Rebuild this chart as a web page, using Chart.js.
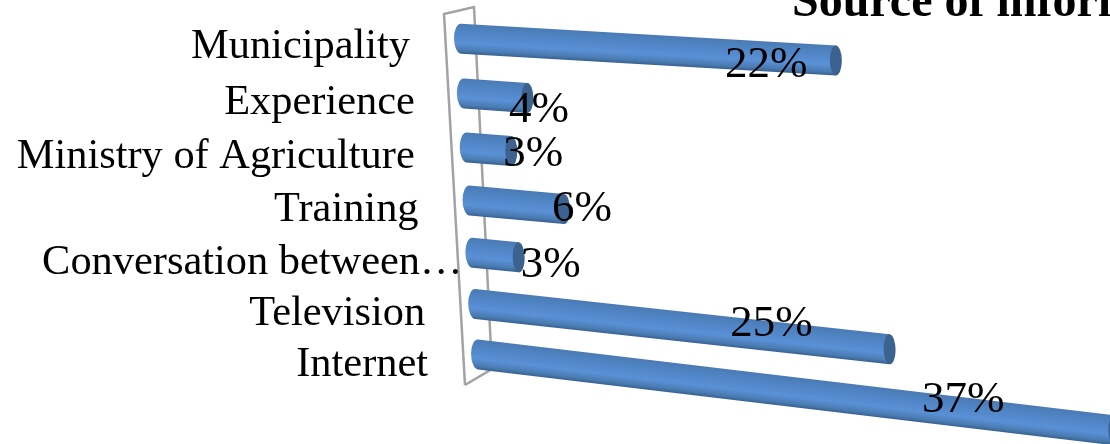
<!DOCTYPE html>
<html>
<head>
<meta charset="utf-8">
<title>Source of information</title>
<script src="https://cdn.jsdelivr.net/npm/chart.js@4"></script>
<style>
  html,body{margin:0;padding:0;background:#fff;overflow:hidden;}
  #wrap{width:1110px;height:444px;}
</style>
</head>
<body>
<div id="wrap"><canvas id="chart" width="1110" height="444"></canvas></div>
<script>
// ---------------------
// data
// ---------------------
const categories = ["Municipality","Experience","Ministry of Agriculture","Training","Conversation between…","Television","Internet"];
const values = [22.2,4.1,3,5.9,3.1,24.5,37.4];
const valueLabels = ["22%","4%","3%","6%","3%","25%","37%"];
const chartTitle = "Source of information";

// ---------------------
// fake 3d look
// ---------------------
const serif = '"Liberation Serif","Times New Roman",serif';
const labelGap = [44,42,45,44,3,43,43]; // tick label distance left of the bar
const labelNudge = [[-69.5,5],[11.5,12],[22,3.5],[18,0],[32,7.5],[-118,-25],[-151,-30]]; // value label from bar end

function barShape(y){
  const top = 38, bottom = 353;
  return {
    shift:(y-top)*0.054,
    slope:0.058+(y-top)*0.000194,
    lift:(y-top)*(bottom-y)*0.00016
  };
}

function barGradient(ctx,y,h){
  const g = ctx.createLinearGradient(0,y-h/2,0,y+h/2);
  g.addColorStop(0,"#4a7ab4");
  g.addColorStop(0.3,"#5086c6");
  g.addColorStop(0.65,"#5a90d6");
  g.addColorStop(0.88,"#4a7cb2");
  g.addColorStop(1,"#38608f");
  return g;
}

const cylinderPlugin = {
  id:"cylinder",
  beforeDatasetsDraw(chart){
    const {ctx,chartArea:a} = chart;
    ctx.save();
    ctx.strokeStyle = "#a3a3a3";
    ctx.lineWidth = 2.5;
    ctx.beginPath();
    ctx.moveTo(a.left+11,a.bottom+5);
    ctx.lineTo(a.left-10,a.top+2);
    ctx.lineTo(a.left+20,a.top-5);
    ctx.lineTo(a.left+38,a.bottom-11);
    ctx.lineTo(a.left+11,a.bottom+5);
    ctx.stroke();
    ctx.restore();
  },
  beforeDatasetDraw(chart){
    const ctx = chart.ctx;
    chart.getDatasetMeta(0).data.forEach(bar=>{
      const h = bar.height, r = h/2;
      const {shift,slope,lift} = barShape(bar.y);
      ctx.save();
      ctx.transform(1,slope,0,1,shift,lift-slope*bar.base);
      ctx.fillStyle = barGradient(ctx,bar.y,h);
      ctx.beginPath();
      ctx.ellipse(bar.base+7,bar.y,7,r,0,Math.PI/2,Math.PI*1.5);
      ctx.lineTo(bar.x,bar.y-r);
      ctx.lineTo(bar.x,bar.y+r);
      ctx.closePath();
      ctx.fill();
      ctx.fillStyle = "#3c628f";
      ctx.beginPath();
      ctx.ellipse(bar.x,bar.y,6,r,0,0,Math.PI*2);
      ctx.fill();
      ctx.restore();
    });
    return false;
  },
  afterDatasetsDraw(chart){
    const ctx = chart.ctx;
    const bars = chart.getDatasetMeta(0).data;
    ctx.save();
    ctx.fillStyle = "#000";
    ctx.textBaseline = "middle";

    // category labels
    ctx.font = "42.4px "+serif;
    ctx.textAlign = "right";
    bars.forEach((bar,i)=>{
      const {shift,lift} = barShape(bar.y);
      ctx.fillText(categories[i],bar.base+shift-labelGap[i],bar.y+lift+9+(bar.y-38)*0.007);
    });

    // value labels
    ctx.font = "45px "+serif;
    ctx.textAlign = "center";
    bars.forEach((bar,i)=>{
      const {shift,slope,lift} = barShape(bar.y);
      const endX = bar.x+shift, endY = bar.y+lift+slope*(bar.x-bar.base);
      ctx.fillText(valueLabels[i],endX+labelNudge[i][0],endY+labelNudge[i][1]);
    });

    // title runs off the picture like the original
    ctx.font = "bold 48px "+serif;
    ctx.textAlign = "left";
    ctx.textBaseline = "alphabetic";
    ctx.fillText(chartTitle,792,16);
    ctx.restore();
  }
};

new Chart(document.getElementById("chart"),{
  type:"bar",
  data:{
    labels:categories,
    datasets:[{data:values,backgroundColor:"#4f81bd",barThickness:30}]
  },
  options:{
    indexAxis:"y",
    responsive:false,
    animation:false,
    layout:{padding:{left:454,top:12,bottom:64,right:11}},
    plugins:{legend:{display:false},tooltip:{enabled:false},title:{display:false}},
    scales:{
      x:{display:false,min:0,max:37.5},
      y:{display:false}
    }
  },
  plugins:[cylinderPlugin]
});
</script>
</body>
</html>
